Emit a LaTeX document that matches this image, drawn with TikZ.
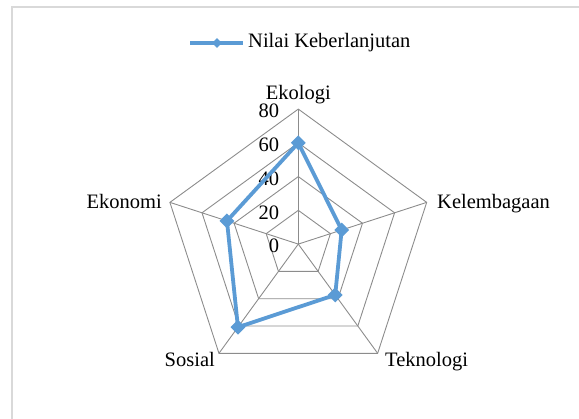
\documentclass[tikz,border=0pt]{standalone}
\usepackage{fontspec}
\setmainfont{Liberation Serif}
\usetikzlibrary{shapes.geometric}
\definecolor{serieblue}{HTML}{5B9BD5}
\definecolor{gridgray}{HTML}{8C8C8C}
\definecolor{framegray}{HTML}{D9D9D9}
\begin{document}
\begin{tikzpicture}[x=1pt,y=1pt,
  gridline/.style={draw=gridgray, line width=0.9pt},
  seriesline/.style={draw=serieblue, line width=3.8pt, line join=round},
  marker/.style={diamond, fill=serieblue, inner sep=0pt, minimum size=15pt},
  legmarker/.style={diamond, fill=serieblue, inner sep=0pt, minimum size=10pt},
  txt/.style={font=\fontsize{20.5}{24}\selectfont, inner sep=0pt},
  ticklabel/.style={txt, anchor=east}]
\useasboundingbox (0,0) rectangle (579,419);
\draw[framegray, line width=1.5pt] (12,0) -- (12,412) -- (579,412);
\begin{scope}[shift={(298.3,174.9)}]
  \foreach \r in {33.75,67.5,101.25,135}{
    \draw[gridline] (90:\r) -- (18:\r) -- (-54:\r) -- (-126:\r) -- (162:\r) -- cycle;
  }
  \coordinate (O) at (0,0);
  \coordinate (A1) at (90:135);
  \coordinate (A2) at (18:135);
  \coordinate (A3) at (-54:135);
  \coordinate (A4) at (-126:135);
  \coordinate (A5) at (162:135);
  \foreach \a in {A1,A2,A3,A4,A5}{ \draw[gridline] (O) -- (\a); }
  % tick labels
  \node[ticklabel] (t0) at (-19,-2) {0};
  \node[ticklabel] (t20) at (-19,31.75) {20};
  \node[ticklabel] (t40) at (-19,65.5) {40};
  \node[ticklabel] (t60) at (-19,99.25) {60};
  \node[ticklabel] (t80) at (-19,133) {80};
  % axis labels
  \node[txt, anchor=base] (Lek) at (0,145) {Ekologi};
  \node[txt, anchor=base west] (Lkel) at (138.7,35.8) {Kelembagaan};
  \node[txt, anchor=base west] (Ltek) at (86.7,-122) {Teknologi};
  \node[txt, anchor=base east] (Lsos) at (-83.3,-122) {Sosial};
  \node[txt, anchor=base east] (Leko) at (-136.3,35.8) {Ekonomi};
  % data
  \coordinate (P1) at (90:101.25);
  \coordinate (P2) at (18:45.6);
  \coordinate (P3) at (-54:62.8);
  \coordinate (P4) at (-126:102.7);
  \coordinate (P5) at (162:75);
  \draw[seriesline] (P1) -- (P2) -- (P3) -- (P4) -- (P5) -- cycle;
  \foreach \p in {P1,P2,P3,P4,P5}{ \node[marker] (m\p) at (\p) {}; }
\end{scope}
% legend
\coordinate (LgA) at (190,376);
\coordinate (LgB) at (243,376);
\draw[seriesline] (LgA) -- (LgB);
\node[legmarker] (LgM) at (217,376) {};
\node[txt, anchor=west] (LgT) at (248,376) {Nilai Keberlanjutan};
\end{tikzpicture}
\end{document}
